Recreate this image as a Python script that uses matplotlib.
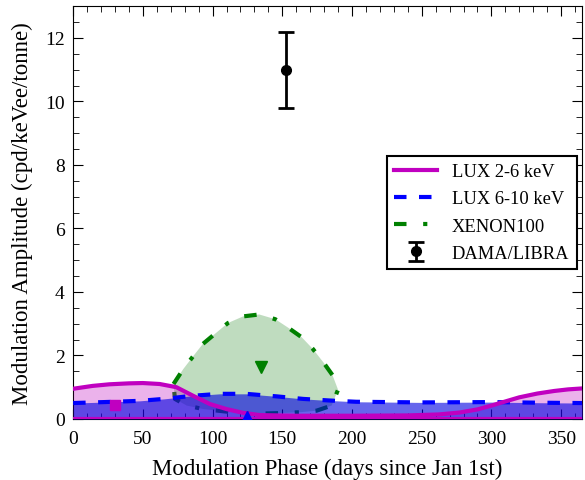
import matplotlib
matplotlib.use("Agg")
import matplotlib.pyplot as plt
from matplotlib.ticker import MultipleLocator

plt.rcParams["font.family"] = ["Liberation Serif", "DejaVu Serif"]

# LUX 2-6 keV contour (upper edge, lower edge is zero)
lux26_phase = [0, 14, 26, 40, 50, 62, 74, 86, 98, 110, 122, 134, 160, 200, 240,
               262, 277, 290, 300, 310, 320, 333, 345, 355, 365]
lux26_amp = [0.95, 1.04, 1.09, 1.12, 1.13, 1.1, 1.0, 0.73, 0.47, 0.31, 0.19, 0.12,
             0.1, 0.1, 0.11, 0.14, 0.2, 0.3, 0.42, 0.55, 0.68, 0.8, 0.88, 0.93, 0.96]

# LUX 6-10 keV contour (upper edge, lower edge is zero)
lux610_phase = [0, 15, 29, 48, 65, 86, 105, 124, 146, 165, 184, 203, 250, 300, 335, 365]
lux610_amp = [0.5, 0.52, 0.54, 0.57, 0.63, 0.73, 0.79, 0.79, 0.71, 0.63, 0.58, 0.54,
              0.52, 0.53, 0.51, 0.5]

# XENON100 closed contour
xe_phase = [72, 79, 86, 93, 102, 111, 122, 133.5, 145, 154, 164, 172, 179.5, 186, 190,
            185.4, 174.6, 162.7, 146, 127, 110, 93.4, 81.5, 73, 72]
xe_amp = [1.1, 1.57, 1.97, 2.36, 2.69, 3.02, 3.23, 3.29, 3.14, 2.88, 2.57, 2.2, 1.78,
          1.38, 0.92, 0.42, 0.26, 0.21, 0.18, 0.16, 0.23, 0.31, 0.42, 0.63, 1.1]

# best fit points
lux26_best = (30, 0.45)
lux610_best = (125, 0.1)
xe_best = (135, 1.65)

# DAMA/LIBRA
dama_phase = 153
dama_amp = 11.0
dama_err = 1.2

fig = plt.figure(figsize=(5.85, 4.81), dpi=100)
ax = fig.add_axes([0.125, 0.127, 0.87, 0.858])

mag = "#c000c0"
green = "#008000"
blue = "#0000ff"

ax.fill(xe_phase, xe_amp, color="#2e8b2e", alpha=0.3, lw=0, zorder=1)
ax.plot(xe_phase, xe_amp, color=green, lw=3, ls=(0, (3, 4, 1, 4)), zorder=2,
        label="XENON100")
ax.fill_between(lux26_phase, 0, lux26_amp, color=mag, alpha=0.3, lw=0, zorder=3)
ax.fill_between(lux610_phase, 0, lux610_amp, color="#0000e0", alpha=0.6, lw=0, zorder=3)
ax.plot(lux610_phase, lux610_amp, color=blue, lw=3, ls=(0, (3, 3)), zorder=4,
        label="LUX 6-10 keV")
ax.plot(lux26_phase, lux26_amp, color=mag, lw=3, zorder=5, label="LUX 2-6 keV")
ax.plot([0, 365], [0, 0], color=mag, lw=3, zorder=5)

ax.plot(*lux26_best, marker="s", color=mag, ms=7, zorder=6)
ax.plot(*lux610_best, marker="^", color=blue, ms=7, zorder=6)
ax.plot(*xe_best, marker="v", color=green, ms=8, zorder=6)

ax.errorbar(dama_phase, dama_amp, yerr=dama_err, fmt="o", color="black", ms=7,
            elinewidth=2, capsize=6, capthick=2, label="DAMA/LIBRA", zorder=6)

ax.set_xlim(0, 365)
ax.set_ylim(0, 13)
ax.xaxis.set_major_locator(MultipleLocator(50))
ax.xaxis.set_minor_locator(MultipleLocator(10))
ax.yaxis.set_major_locator(MultipleLocator(2))
ax.yaxis.set_minor_locator(MultipleLocator(0.5))
ax.tick_params(which="both", direction="in", top=True, right=True, labelsize=14)
ax.tick_params(which="major", length=7)
ax.tick_params(which="minor", length=4)
ax.tick_params(axis="x", which="major", pad=8)
ax.tick_params(axis="y", which="major", pad=6)

ax.set_xlabel("Modulation Phase (days since Jan 1st)", fontsize=16.5, labelpad=8)
ax.set_ylabel("Modulation Amplitude (cpd/keVee/tonne)", fontsize=16.5, labelpad=9)

handles, labels = ax.get_legend_handles_labels()
order = ["LUX 2-6 keV", "LUX 6-10 keV", "XENON100", "DAMA/LIBRA"]
hmap = dict(zip(labels, handles))
leg = ax.legend([hmap[k] for k in order], order, loc="center right",
                bbox_to_anchor=(1.0, 0.5), borderaxespad=0.3, fontsize=13.3,
                fancybox=False, edgecolor="black", framealpha=1,
                handlelength=2.3, labelspacing=0.55)
leg.get_frame().set_linewidth(1.5)

fig.savefig("out.png", dpi=100)
